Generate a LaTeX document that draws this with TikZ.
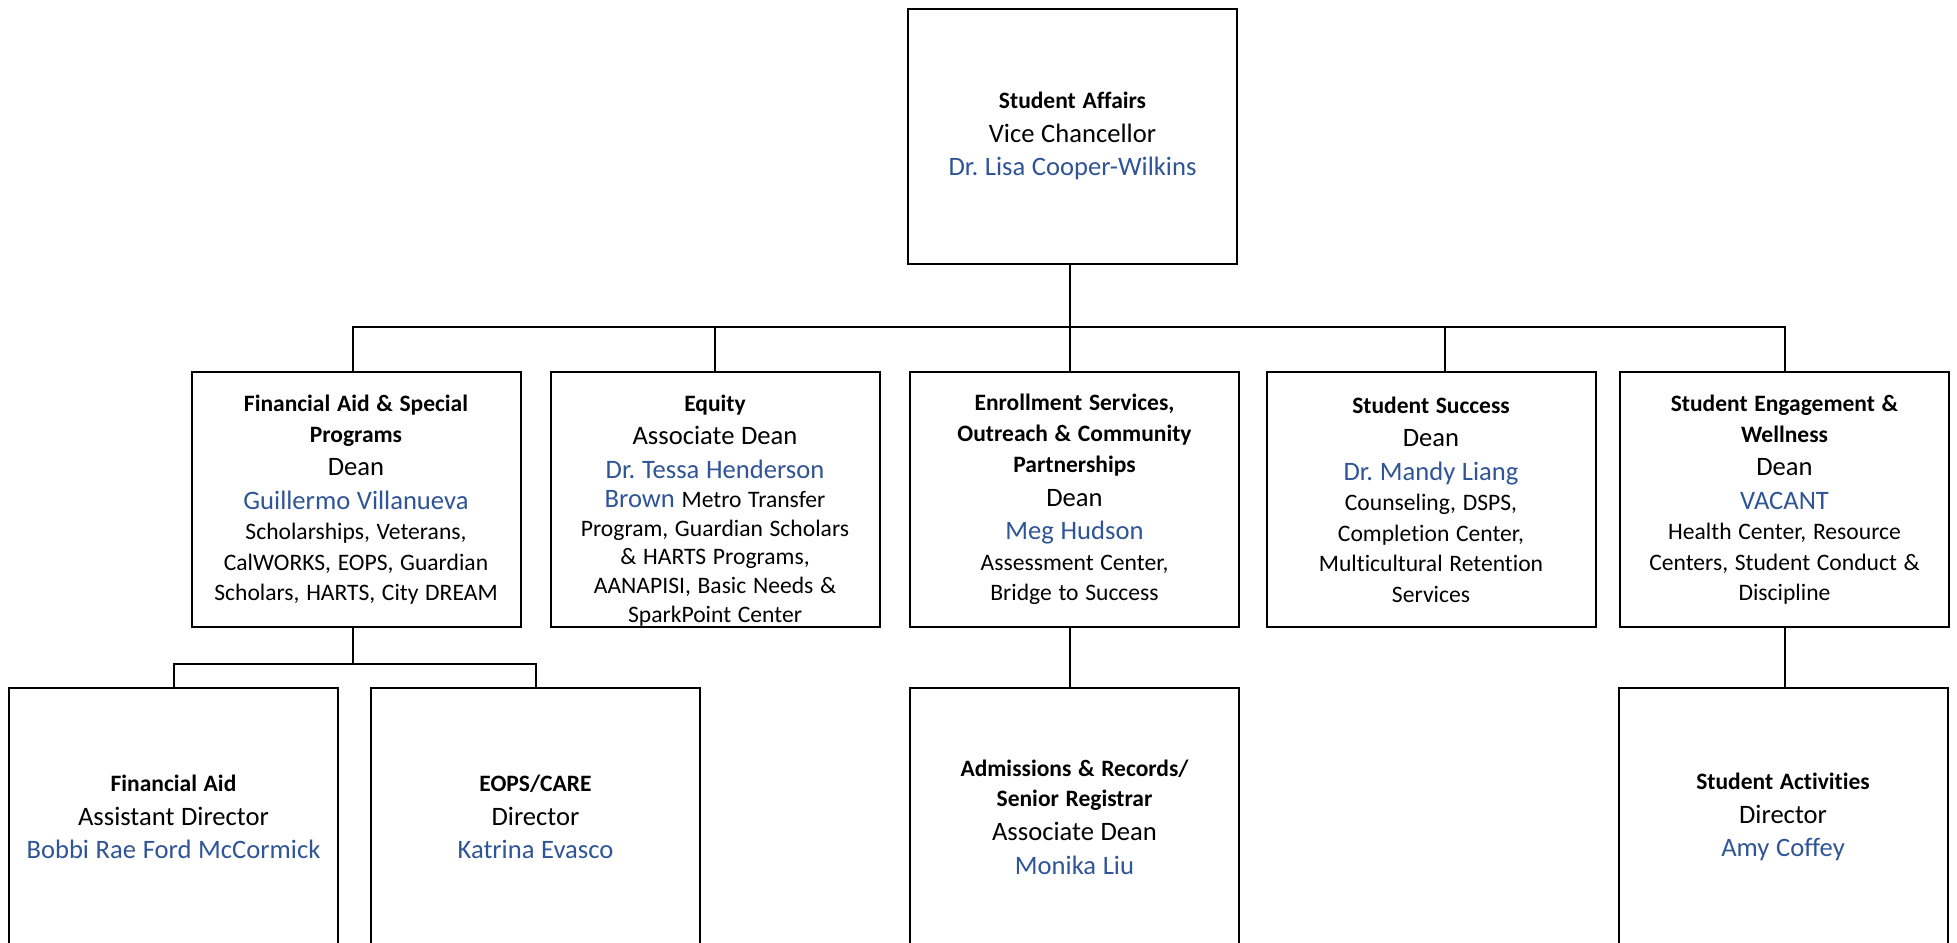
\documentclass[tikz,border=0pt]{standalone}
\usepackage{fontspec}
\setmainfont{Carlito}[Ligatures=NoCommon]
\frenchspacing
\definecolor{nameblue}{RGB}{47,85,151}
\newcommand{\boxtitle}[1]{{\fontsize{11.75}{15.4}\selectfont\bfseries #1\par}}
\newcommand{\boxrole}[1]{{\fontsize{13.3}{16.8}\selectfont #1\par}}
\newcommand{\boxname}[1]{{\fontsize{13.3}{16.8}\selectfont\color{nameblue}#1\par}}
\newcommand{\boxdesc}[1]{{\fontsize{11.8}{15.2}\selectfont #1\par}}
\newcommand{\boxdesctight}[1]{{\fontsize{11.8}{14.4}\selectfont #1\par}}
\tikzset{
  orgbox/.style={draw, line width=1pt, rectangle, inner sep=0pt,
    minimum width=164.5pt, minimum height=127.5pt, text width=160pt, align=center},
  lowbox/.style={orgbox, minimum height=129pt},
  conn/.style={line width=1pt}
}
\begin{document}
\begin{tikzpicture}[x=0.5pt,y=-0.5pt]
\useasboundingbox (0,0) rectangle (1957,942);
\clip (0,0) rectangle (1957,942);
\fill[white] (0,0) rectangle (1957,942);
\coordinate (bus) at (0,327);
\coordinate (sub) at (0,664);

\node[orgbox] (top) at (1072.5,136) {\boxtitle{Student Affairs}\boxrole{Vice Chancellor}\boxname{Dr. Lisa Cooper-Wilkins}};

\node[orgbox] (m1) at (356,499.5) {\boxtitle{Financial Aid \& Special\\Programs}\boxrole{Dean}\boxname{Guillermo Villanueva}\boxdesc{Scholarships, Veterans,\\CalWORKS, EOPS, Guardian\\Scholars, HARTS, City DREAM}};
\node[orgbox] (m2) at (715,499.5) {\boxtitle{Equity}\boxrole{Associate Dean}\boxname{Dr. Tessa Henderson}\boxdesctight{{\fontsize{13.3}{15}\selectfont\color{nameblue}Brown} Metro Transfer\\Program, Guardian Scholars\\\& HARTS Programs,\\AANAPISI, Basic Needs \&\\SparkPoint Center}\kern-11pt};
\node[orgbox] (m3) at (1074.5,499.5) {\boxtitle{Enrollment Services,\\Outreach \& Community\\Partnerships}\boxrole{Dean}\boxname{Meg Hudson}\boxdesc{Assessment Center,\\Bridge to Success}};
\node[orgbox] (m4) at (1431,499.5) {\boxtitle{Student Success}\boxrole{Dean}\boxname{Dr. Mandy Liang}\boxdesc{Counseling, DSPS,\\Completion Center,\\Multicultural Retention\\Services}};
\node[orgbox] (m5) at (1784.5,499.5) {\boxtitle{Student Engagement \&\\Wellness}\boxrole{Dean}\boxname{VACANT}\boxdesc{Health Center, Resource\\Centers, Student Conduct \&\\Discipline}};

\node[lowbox] (b1) at (173.5,817) {\boxtitle{Financial Aid}\boxrole{Assistant Director}\boxname{Bobbi Rae Ford McCormick}};
\node[lowbox] (b2) at (535.5,817) {\boxtitle{EOPS/CARE}\boxrole{Director}\boxname{Katrina Evasco}};
\node[lowbox] (b3) at (1074.5,817) {\boxtitle{Admissions \& Records/\\Senior Registrar}\boxrole{Associate Dean}\boxname{Monika Liu}};
\node[lowbox] (b5) at (1783,817) {\boxtitle{Student Activities}\boxrole{Director}\boxname{Amy Coffey}};

% connectors
\draw[conn] ([xshift=-1.25pt]top.south) -- ([xshift=-1.25pt]top.south |- m3.north);
\draw[conn] ([xshift=-1.5pt]m1.north) -- ([xshift=-1.5pt]m1.north |- bus) -- (m5.north |- bus) -- (m5.north);
\draw[conn] (m2.north) -- (m2.north |- bus);
\draw[conn] ([xshift=7pt]m4.north) -- ([xshift=7pt]m4.north |- bus);
\draw[conn] ([xshift=-1.5pt]m1.south) -- ([xshift=-1.5pt]m1.south |- sub);
\draw[conn] (b1.north) -- (b1.north |- sub) -- (b2.north |- sub) -- (b2.north);
\draw[conn] ([xshift=-2.25pt]m3.south) -- ([xshift=-2.25pt]m3.south |- b3.north);
\draw[conn] (m5.south) -- (m5.south |- b5.north);
\end{tikzpicture}
\end{document}
